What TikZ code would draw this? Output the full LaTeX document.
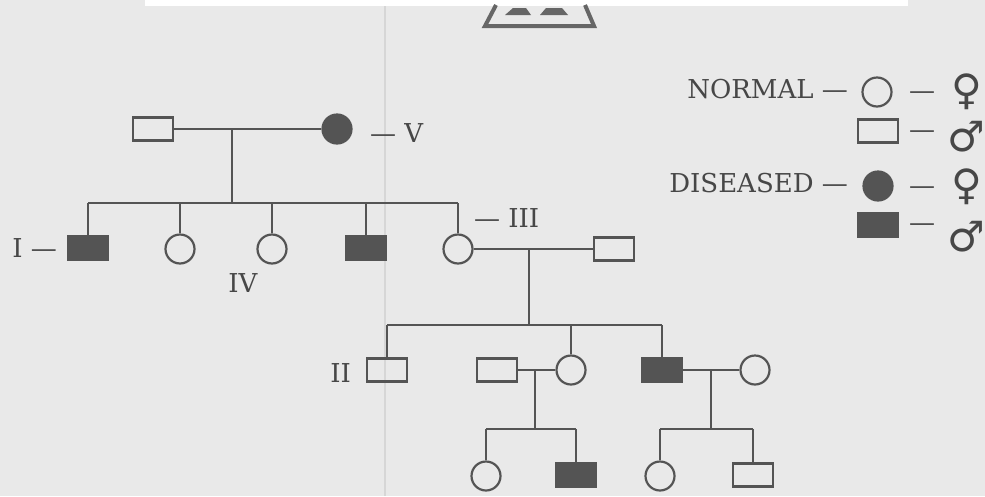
\documentclass[tikz,border=0pt]{standalone}
\usepackage{fontspec}
\newfontfamily\gsym{DejaVu Sans}
\newfontfamily\lblfont[Ligatures=TeX]{DejaVu Serif}
\definecolor{ink}{gray}{0.33}
\definecolor{paper}{gray}{0.915}
\tikzstyle{male}=[draw, rectangle, minimum width=40pt, minimum height=23pt, inner sep=0pt]
\tikzstyle{female}=[draw, circle, minimum size=29pt, inner sep=0pt]
\tikzstyle{ill}=[fill=ink]
\tikzstyle{lbl}=[inner sep=0pt, text=black!72, font=\lblfont\fontsize{26}{30}\selectfont]
\tikzstyle{gsign}=[inner sep=0pt, text=black!72, font=\gsym\fontsize{42}{42}\selectfont]

\begin{document}
\begin{tikzpicture}[x=1pt, y=-1pt, line width=2.2pt, color=ink]
    \fill[paper] (0,0) rectangle (985,496);
    \useasboundingbox (0,0) rectangle (985,496);
    \clip (0,0) rectangle (985,496);
    \draw[black!16, line width=1.5pt] (385,0) -- (385,496);
    \fill[white] (145,0) rectangle (908,6);
    \draw[black!60, line width=4pt] (496,5) -- (485,26) -- (594,26) -- (585,5);
    \fill[black!60] (505,15) -- (513,8) -- (526,8) -- (531,15) -- cycle;
    \fill[black!60] (540,15) -- (546,8) -- (562,8) -- (568,15) -- cycle;

    \node [male] (g1m) at (153,129) {};
    \node [female, ill] (g1f) at (337,129) {};
    \node [lbl, anchor=base west] (lv) at (369,142) {--- V};
    \coordinate (m1) at (232,129);
    \coordinate (s1) at (232,203);

    \node [male, ill] (c1) at (88,248) {};
    \node [female] (c2) at (180,249) {};
    \node [female] (c3) at (272,249) {};
    \node [male, ill] (c4) at (366,248) {};
    \node [female] (c5) at (458,249) {};
    \node [male] (c5sp) at (614,249) {};
    \node [lbl, anchor=base east] (li) at (58,257) {I ---};
    \node [lbl, anchor=base] (liv) at (243,292) {IV};
    \node [lbl, anchor=base west] (liii) at (473,227) {--- III};
    \coordinate (m2) at (529,249);
    \coordinate (s2) at (529,325);

    \node [male] (d1) at (387,370) {};
    \node [male] (d2sp) at (497,370) {};
    \node [female] (d2) at (571,370) {};
    \node [male, ill] (d3) at (662,370) {};
    \node [female] (d3sp) at (755,370) {};
    \node [lbl, anchor=base east] (lii) at (352,382) {II};
    \coordinate (m3) at (535,370);
    \coordinate (s3) at (535,429);
    \coordinate (m4) at (711,370);
    \coordinate (s4) at (711,429);

    \node [female] (e1) at (486,476) {};
    \node [male, ill] (e2) at (576,475) {};
    \node [female] (e3) at (660,476) {};
    \node [male] (e4) at (753,475) {};

    \draw (g1m) -- (g1f);
    \draw (m1) -- (s1);
    \draw (c1 |- s1) -- (c5 |- s1);
    \foreach \k in {c1,c2,c3,c4,c5}
        \draw (\k |- s1) -- (\k);
    \draw (c5) -- (c5sp);
    \draw (m2) -- (s2);
    \draw (d1 |- s2) -- (d3 |- s2);
    \foreach \k in {d1,d2,d3}
        \draw (\k |- s2) -- (\k);
    \draw (d2sp) -- (d2);
    \draw (d3) -- (d3sp);
    \draw (m3) -- (s3);
    \draw (e1 |- s3) -- (e2 |- s3);
    \draw (m4) -- (s4);
    \draw (e3 |- s4) -- (e4 |- s4);
    \foreach \k/\s in {e1/s3,e2/s3,e3/s4,e4/s4}
        \draw (\k |- \s) -- (\k);

    \node [lbl, anchor=base east] (normal) at (849,98) {NORMAL ---};
    \node [lbl, anchor=base east] (diseased) at (849,192) {DISEASED ---};
    \node [female] (kf) at (877,92) {};
    \node [male] (km) at (878,131) {};
    \node [female, ill] (kfi) at (878,186) {};
    \node [male, ill] (kmi) at (878,225) {};
    \foreach \y/\n in {99/1,138/2,194/3,231/4}
        \node [lbl, anchor=base west] (kd\n) at (908,\y) {---};
    \node [gsign] (sf1) at (967,92) {♀};
    \node [gsign] (sm1) at (966,137) {♂};
    \node [gsign] (sf2) at (967,187) {♀};
    \node [gsign] (sm2) at (966,237) {♂};
\end{tikzpicture}
\end{document}
